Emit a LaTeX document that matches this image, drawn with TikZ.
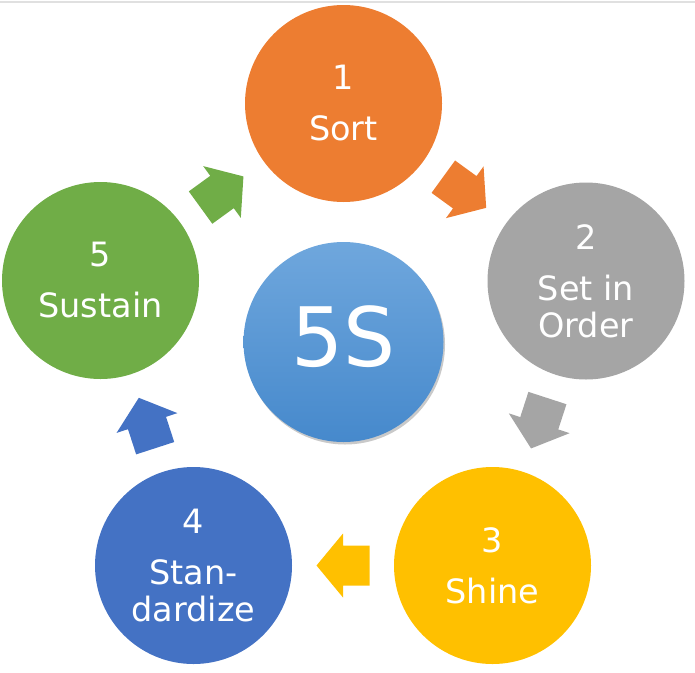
\documentclass[tikz,border=0pt]{standalone}
\usepackage{fontspec}
\setmainfont{DejaVu Sans}
\usetikzlibrary{calc,shadows}
\definecolor{cOrange}{HTML}{ED7D31}
\definecolor{cGray}{HTML}{A5A5A5}
\definecolor{cYellow}{HTML}{FFC000}
\definecolor{cBlue}{HTML}{4472C4}
\definecolor{cGreen}{HTML}{70AD47}
\definecolor{cTopBlue}{HTML}{6FA7DD}
\definecolor{cBotBlue}{HTML}{4689CC}
\definecolor{cLine}{HTML}{E0E0E0}
\tikzset{
  stepcircle/.style={circle, minimum size=197pt, inner sep=0pt, text=white,
    align=center, font=\fontsize{33.5}{37}\selectfont},
  centercircle/.style={circle, minimum size=200pt, inner sep=0pt,
    top color=cTopBlue, bottom color=cBotBlue,
    drop shadow={shadow xshift=1.5pt, shadow yshift=-2.5pt, opacity=0.3, fill=black!70}},
  centertext/.style={text=white, inner sep=0pt, font=\fontsize{82}{90}\selectfont},
  blockarrow/.pic={
    \fill[#1] (-26.5,-20) -- (0,-20) -- (0,-32) -- (26.5,0) -- (0,32) -- (0,20) -- (-26.5,20) -- cycle;
  }
}
\begin{document}
\begin{tikzpicture}[x=1pt,y=-1pt]
\useasboundingbox (0,0) rectangle (695,672);
\fill[cLine] (0,1) rectangle (695,2.8);

\node[centercircle] (c0) at (343.5,342) {};
\node[centertext] (t0) at ($(c0)+(0,-5)$) {5S};

\node[stepcircle, fill=cOrange] (c1) at (343.5,103.5) {1\\[14pt]Sort};
\node[stepcircle, fill=cGray]   (c2) at (586,281) {2\\[14pt]Set in\\Order};
\node[stepcircle, fill=cYellow] (c3) at (492.5,565.5) {3\\[14pt]Shine};
\node[stepcircle, fill=cBlue]   (c4) at (193.5,565.5) {4\\[14pt]Stan-\\dardize};
\node[stepcircle, fill=cGreen]  (c5) at (100.5,280.5) {5\\[14pt]Sustain};

\pic[rotate=-36]  at ($(c1)!0.5!(c2)$) {blockarrow=cOrange};
\pic[rotate=-108] at ($(c2)!0.5!(c3)$) {blockarrow=cGray};
\pic[rotate=180]  at ($(c3)!0.5!(c4)$) {blockarrow=cYellow};
\pic[rotate=108]  at ($(c4)!0.5!(c5)$) {blockarrow=cBlue};
\pic[rotate=36]   at ($(c5)!0.5!(c1)$) {blockarrow=cGreen};
\end{tikzpicture}
\end{document}
